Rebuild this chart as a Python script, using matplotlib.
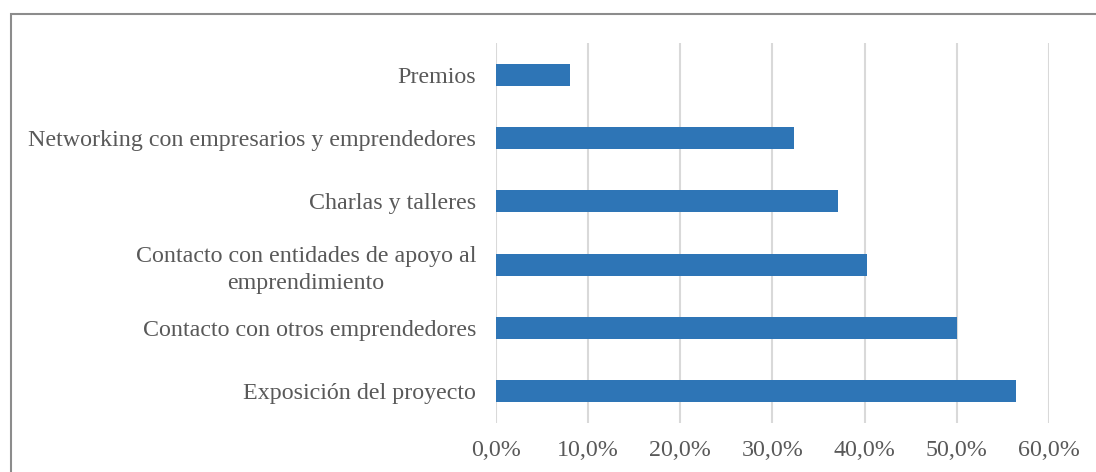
# Horizontal bar chart - beneficios del evento
import matplotlib
matplotlib.use('Agg')
import matplotlib.pyplot as plt
from matplotlib.patches import Rectangle
from matplotlib.ticker import FuncFormatter

# data (bottom to top)
categories = ['Exposición del proyecto',
              'Contacto con otros emprendedores',
              'Contacto con entidades de apoyo al\nemprendimiento',
              'Charlas y talleres',
              'Networking con empresarios y emprendedores',
              'Premios']
values = [0.564, 0.500, 0.403, 0.371, 0.323, 0.080]
xticks = [0.0, 0.1, 0.2, 0.3, 0.4, 0.5, 0.6]

plt.rcParams['font.family'] = ['Liberation Serif', 'DejaVu Serif']
text_col = '#595959'

fig = plt.figure(figsize=(10.96, 4.72), dpi=100)
ax = fig.add_axes([0.4527, 0.1038, 0.5042, 0.805])

ax.barh(range(len(categories)), values, height=0.35, color='#2e75b6', zorder=3)

ax.set_xlim(0, 0.6)
ax.set_ylim(-0.5, len(categories) - 0.5)
ax.set_xticks(xticks)
ax.xaxis.set_major_formatter(FuncFormatter(lambda v, p: '{:.1f}%'.format(v * 100).replace('.', ',')))
ax.set_yticks(range(len(categories)))
ax.set_yticklabels(categories, multialignment='center', linespacing=1.35)

ax.grid(axis='x', color='#d9d9d9', linewidth=1.5, zorder=0)
for s in ax.spines.values():
    s.set_visible(False)
ax.tick_params(axis='both', length=0, labelsize=17.3, labelcolor=text_col)
ax.tick_params(axis='y', pad=14.4)
ax.tick_params(axis='x', pad=12)

# outer border (chart frame, cut at right/bottom)
fig.patches.append(Rectangle((10.5 / 1096, -0.1), 1.2, (472 - 13.5) / 472 + 0.1,
                             transform=fig.transFigure, fill=False,
                             edgecolor='#8c8c8c', linewidth=1.5))

fig.savefig('out.png', dpi=100)
